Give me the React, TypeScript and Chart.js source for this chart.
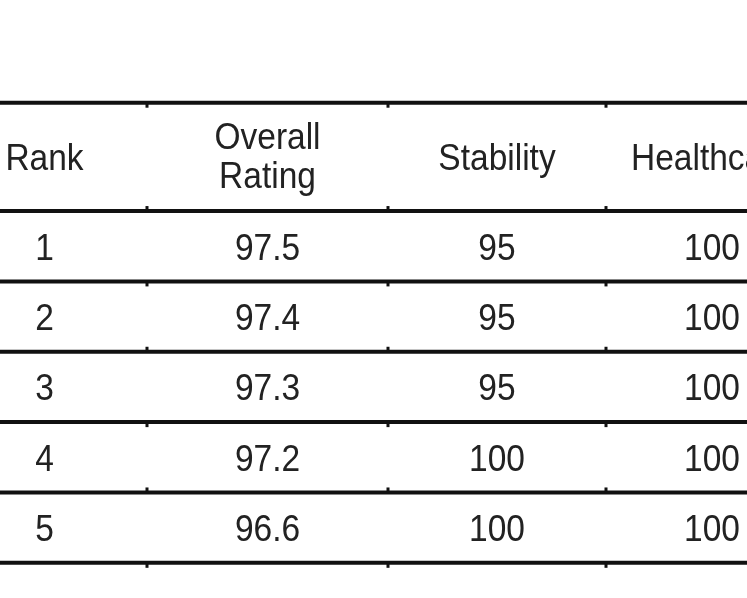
import React, { useEffect, useRef } from 'react';
import { Chart, registerables } from 'chart.js';

Chart.register(...registerables);

// ---- data ----
const headers = ['Rank', 'Overall\nRating', 'Stability', 'Healthcare'];
const ranks = [1, 2, 3, 4, 5];
const overallRating = [97.5, 97.4, 97.3, 97.2, 96.6];
const stability = [95, 95, 95, 100, 100];
const healthcare = [100, 100, 100, 100, 100];

const columns = [ranks, overallRating, stability, healthcare];

// ---- table layout (scale units) ----
const columnWidths = [205, 241, 218, 212];
const headerTop = -1.04;
const headerCenter = -0.27;
const lastRuleRow = 5.5;

const TEXT_COLOR = '#222222';
const RULE_COLOR = '#111111';
const FONT = '"Liberation Sans", Arial, sans-serif';
const FONT_SIZE = 33.5;
const V_STRETCH = 1.12;
const HEADER_LINE_HEIGHT = 39;

const colEdges: number[] = [0];
columnWidths.forEach((w, i) => colEdges.push(colEdges[i] + w));
const colCenters = columnWidths.map((w, i) => colEdges[i] + w / 2);
const colRules = colEdges.slice(1, -1);
const rowRules = [headerTop];
for (let r = 0.5; r <= lastRuleRow; r += 1) rowRules.push(r);

function drawText(ctx: CanvasRenderingContext2D, text: string, x: number, yCenter: number) {
  const capHalf = (0.716 * FONT_SIZE * V_STRETCH) / 2;
  ctx.save();
  ctx.translate(x, yCenter + capHalf);
  ctx.scale(1, V_STRETCH);
  ctx.fillText(text, 0, 0);
  ctx.restore();
}

const tablePlugin = {
  id: 'tablePlugin',
  beforeDatasetsDraw(chart: any) {
    const { ctx, chartArea, scales } = chart;
    const xs = scales.x;
    const ys = scales.y;
    ctx.save();
    ctx.strokeStyle = RULE_COLOR;
    ctx.fillStyle = RULE_COLOR;
    ctx.lineWidth = 4;
    rowRules.forEach((r, ri) => {
      const y = ys.getPixelForValue(r);
      ctx.beginPath();
      ctx.moveTo(chartArea.left, y);
      ctx.lineTo(chartArea.right, y);
      ctx.stroke();
      colRules.forEach((c) => {
        const x = xs.getPixelForValue(c);
        const below = ri % 2 === 0;
        ctx.fillRect(x - 1.5, below ? y : y - 5, 3, 5);
      });
    });
    ctx.restore();
  },
  afterDatasetsDraw(chart: any) {
    const { ctx, scales } = chart;
    const xs = scales.x;
    const ys = scales.y;
    ctx.save();
    ctx.fillStyle = TEXT_COLOR;
    ctx.textAlign = 'center';
    ctx.textBaseline = 'alphabetic';
    ctx.font = `${FONT_SIZE}px ${FONT}`;
    headers.forEach((h, i) => {
      const x = xs.getPixelForValue(colCenters[i]);
      const y = ys.getPixelForValue(headerCenter);
      const lines = h.split('\n');
      lines.forEach((ln, k) => {
        drawText(ctx, ln, x, y + (k - (lines.length - 1) / 2) * HEADER_LINE_HEIGHT - (lines.length > 1 ? 2 : 0));
      });
    });
    chart.data.datasets.forEach((ds: any, di: number) => {
      const meta = chart.getDatasetMeta(di);
      meta.data.forEach((el: any, pi: number) => {
        drawText(ctx, String(ds.data[pi].v), el.x, el.y);
      });
    });
    ctx.restore();
  },
};

export default function App() {
  const ref = useRef<HTMLCanvasElement | null>(null);
  useEffect(() => {
    if (!ref.current) return;
    const datasets = columns.map((col, ci) => ({
      label: headers[ci].replace('\n', ' '),
      data: col.map((v, ri) => ({ x: colCenters[ci], y: ri + 1, v })),
      pointRadius: 0,
      showLine: false,
    }));
    const chart = new Chart(ref.current, {
      type: 'scatter',
      data: { datasets: datasets as any },
      options: {
        animation: false,
        responsive: true,
        maintainAspectRatio: false,
        layout: { padding: 0 },
        plugins: { legend: { display: false }, tooltip: { enabled: false } },
        scales: {
          x: { type: 'linear', min: 58, max: 805, display: false },
          y: { type: 'linear', min: -2.5, max: 6, reverse: true, display: false },
        },
      },
      plugins: [tablePlugin],
    });
    return () => chart.destroy();
  }, []);
  return (
    <div style={{ position: 'absolute', left: 0, top: 0, width: 747, height: 598, background: '#fff' }}>
      <canvas ref={ref} />
    </div>
  );
}
